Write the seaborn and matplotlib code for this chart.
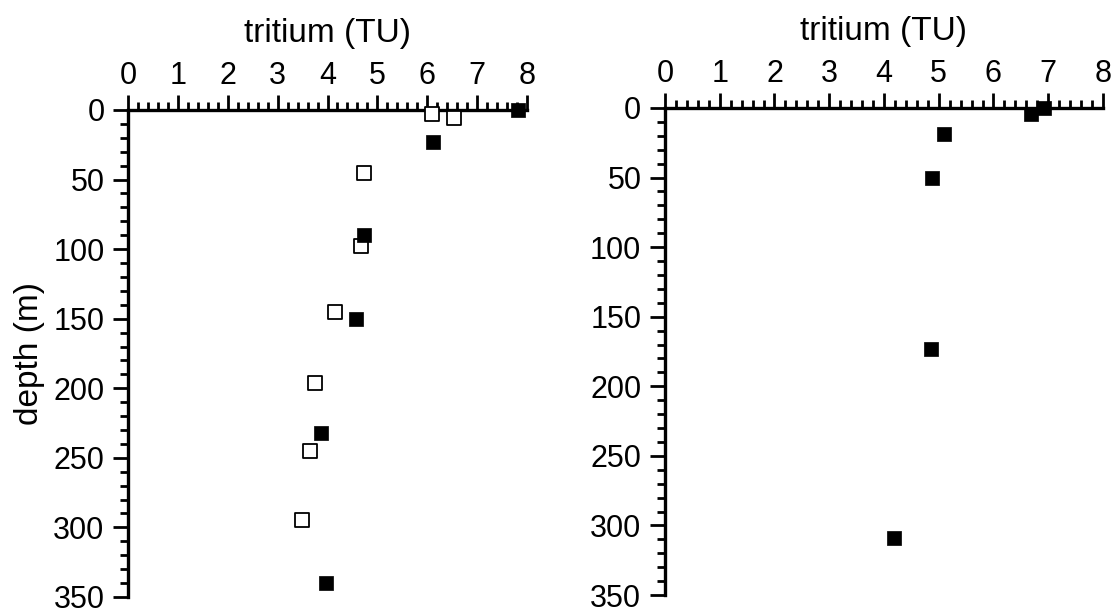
import numpy as np
import matplotlib
matplotlib.use("Agg")
import matplotlib.pyplot as plt
from matplotlib.ticker import MultipleLocator
import seaborn as sns

# left profile: open squares
left_open_tu = [6.10, 6.53, 4.73, 4.68, 4.15, 3.75, 3.64, 3.49]
left_open_depth = [3, 6, 45, 98, 145, 196, 245, 295]
# left profile: filled squares
left_fill_tu = [7.81, 6.12, 4.74, 4.58, 3.86, 3.96]
left_fill_depth = [0, 23, 90, 150, 232, 340]
# right profile: filled squares
right_fill_tu = [6.92, 6.69, 5.10, 4.88, 4.86, 4.18]
right_fill_depth = [0, 4, 19, 50, 173, 309]

x_ticks = list(range(0, 9))
y_ticks = list(range(0, 351, 50))

sns.set_style("ticks")
plt.rcParams['font.family'] = ['Liberation Sans', 'DejaVu Sans']
plt.rcParams['text.color'] = 'black'
plt.rcParams['axes.labelcolor'] = 'black'

fig = plt.figure(figsize=(11.14, 6.15), dpi=100)
ax1 = fig.add_axes([0.1149, 0.0293, 0.3582, 0.7919])
ax2 = fig.add_axes([0.5969, 0.0325, 0.3932, 0.7919])


def style_axis(ax, ylabel=None):
    ax.set_xlim(0, 8)
    ax.set_ylim(350, 0)
    ax.xaxis.tick_top()
    ax.xaxis.set_label_position('top')
    ax.set_xticks(x_ticks)
    ax.set_yticks(y_ticks)
    ax.xaxis.set_minor_locator(MultipleLocator(0.2))
    ax.yaxis.set_minor_locator(MultipleLocator(10))
    for side in ['bottom', 'right']:
        ax.spines[side].set_visible(False)
    for side in ['top', 'left']:
        ax.spines[side].set_linewidth(2.4)
        ax.spines[side].set_color('black')
    ax.tick_params(which='major', direction='out', length=11, width=2,
                   labelsize=22, colors='black')
    ax.tick_params(which='minor', direction='out', length=6, width=2,
                   colors='black')
    ax.tick_params(axis='x', which='major', pad=3)
    ax.tick_params(axis='y', which='major', pad=6)
    ax.set_xlabel('tritium (TU)', fontsize=24, labelpad=13)
    if ylabel:
        ax.set_ylabel(ylabel, fontsize=24, labelpad=6)
    else:
        ax.set_ylabel('')


sns.scatterplot(x=left_open_tu, y=left_open_depth, ax=ax1, marker='s', s=95,
                color='white', edgecolor='black', linewidth=1.3, clip_on=False,
                zorder=3)
sns.scatterplot(x=left_fill_tu, y=left_fill_depth, ax=ax1, marker='s', s=110,
                color='black', edgecolor='black', linewidth=0.5, clip_on=False,
                zorder=4)
sns.scatterplot(x=right_fill_tu, y=right_fill_depth, ax=ax2, marker='s', s=110,
                color='black', edgecolor='black', linewidth=0.5, clip_on=False,
                zorder=4)

style_axis(ax1, 'depth (m)')
style_axis(ax2)

fig.savefig('out.png', dpi=100)
